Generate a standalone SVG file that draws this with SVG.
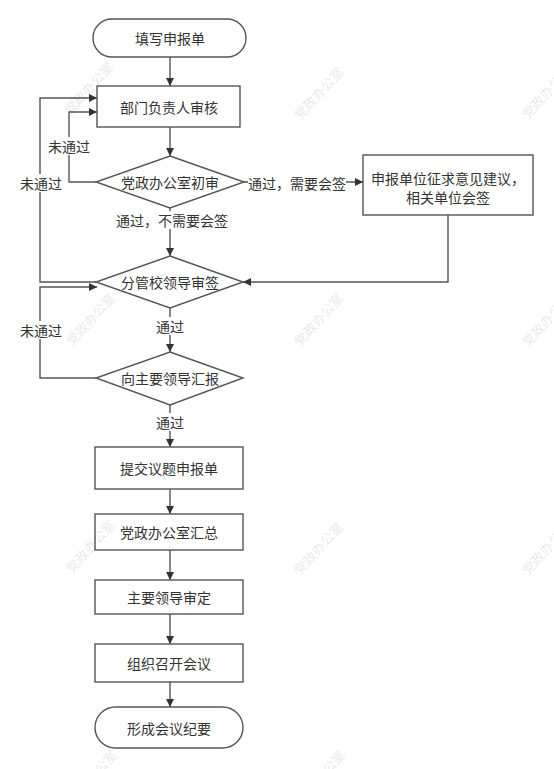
<svg xmlns="http://www.w3.org/2000/svg" width="554" height="769" viewBox="0 0 554 769">
<defs>
<marker id="arr" viewBox="0 0 10 10" refX="10" refY="5" markerWidth="8" markerHeight="8" markerUnits="userSpaceOnUse" orient="auto">
<path d="M0,0 L10,5 L0,10 Z" fill="#333"/>
</marker>
<style>
.shape{fill:#fff;stroke:#555;stroke-width:1.4}
.t{font-family:"Noto Sans CJK SC","Noto Sans",sans-serif;font-size:14px;fill:#333;text-anchor:middle;dominant-baseline:central}
.bg{fill:#fff}
.c{fill:none;stroke:#555;stroke-width:1.4;marker-end:url(#arr)}
.wm{font-family:"Noto Sans CJK SC",sans-serif;font-size:13px;fill:#000;opacity:0.09;text-anchor:middle;dominant-baseline:central}
</style>
</defs>
<rect width="554" height="769" fill="#fff"/>

<g id="connectors">
<path class="c" d="M170,57 L170,86"/>
<path class="c" d="M170,127 L170,156"/>
<path class="c" d="M170,208 L170,256"/>
<path class="c" d="M244,182 L363,182"/>
<path class="c" d="M448,215 L448,282 L243,282"/>
<path class="c" d="M96,182 L69,182 L69,112 L97,112"/>
<path class="c" d="M96,282 L40,282 L40,98 L97,98"/>
<path class="c" d="M96,378 L40,378 L40,287 L97,287"/>
<path class="c" d="M170,308 L170,352"/>
<path class="c" d="M170,405 L170,447"/>
<path class="c" d="M170,489 L170,514"/>
<path class="c" d="M170,550 L170,580"/>
<path class="c" d="M170,614 L170,644"/>
<path class="c" d="M170,682 L170,707"/>
<rect class="bg" x="48" y="137" width="42" height="18"/>
<text class="t" x="69" y="146">未通过</text>
<rect class="bg" x="20" y="174" width="42" height="18"/>
<text class="t" x="41" y="183">未通过</text>
<rect class="bg" x="116" y="211" width="112" height="18"/>
<text class="t" x="172" y="220">通过，不需要会签</text>
<rect class="bg" x="248" y="174" width="98" height="18"/>
<text class="t" x="297" y="183">通过，需要会签</text>
<rect class="bg" x="20" y="321" width="42" height="18"/>
<text class="t" x="41" y="330">未通过</text>
<rect class="bg" x="155" y="317" width="30" height="18"/>
<text class="t" x="170" y="326">通过</text>
<rect class="bg" x="155" y="413" width="30" height="18"/>
<text class="t" x="170" y="422">通过</text>
</g>

<g id="start"><rect class="shape" x="93" y="19" width="153" height="38" rx="19"/><text class="t" x="170" y="38">填写申报单</text></g>
<g id="dept"><rect class="shape" x="97" y="86" width="143" height="41"/><text class="t" x="169" y="107">部门负责人审核</text></g>
<g id="d1"><polygon class="shape" points="170,156 244,182 170,208 96,182"/><text class="t" x="170" y="182">党政办公室初审</text></g>
<g id="countersign"><rect class="shape" x="363" y="155" width="170" height="60"/><text class="t" x="448" y="178">申报单位征求意见建议，</text><text class="t" x="448" y="197">相关单位会签</text></g>
<g id="d2"><polygon class="shape" points="170,256 243,282 170,308 96,282"/><text class="t" x="170" y="282">分管校领导审签</text></g>
<g id="d3"><polygon class="shape" points="170,352 243,378 170,405 96,378"/><text class="t" x="170" y="378">向主要领导汇报</text></g>
<g id="b3"><rect class="shape" x="95" y="447" width="148" height="42"/><text class="t" x="169" y="468">提交议题申报单</text></g>
<g id="b4"><rect class="shape" x="95" y="514" width="148" height="36"/><text class="t" x="169" y="532">党政办公室汇总</text></g>
<g id="b5"><rect class="shape" x="95" y="580" width="148" height="34"/><text class="t" x="169" y="597">主要领导审定</text></g>
<g id="b6"><rect class="shape" x="95" y="644" width="148" height="38"/><text class="t" x="169" y="663">组织召开会议</text></g>
<g id="end"><rect class="shape" x="95" y="707" width="148" height="41" rx="20.5"/><text class="t" x="169" y="727.5">形成会议纪要</text></g>

<g id="watermarks">
<text class="wm" transform="translate(88,88) rotate(-48)">党政办公室</text>
<text class="wm" transform="translate(318,93) rotate(-48)">党政办公室</text>
<text class="wm" transform="translate(546,92) rotate(-48)">党政办公室</text>
<text class="wm" transform="translate(90,319) rotate(-48)">党政办公室</text>
<text class="wm" transform="translate(318,319) rotate(-48)">党政办公室</text>
<text class="wm" transform="translate(546,320) rotate(-48)">党政办公室</text>
<text class="wm" transform="translate(90,546) rotate(-48)">党政办公室</text>
<text class="wm" transform="translate(318,548) rotate(-48)">党政办公室</text>
<text class="wm" transform="translate(546,548) rotate(-48)">党政办公室</text>
<text class="wm" transform="translate(92,776) rotate(-48)">党政办公室</text>
<text class="wm" transform="translate(320,776) rotate(-48)">党政办公室</text>
</g>
</svg>
